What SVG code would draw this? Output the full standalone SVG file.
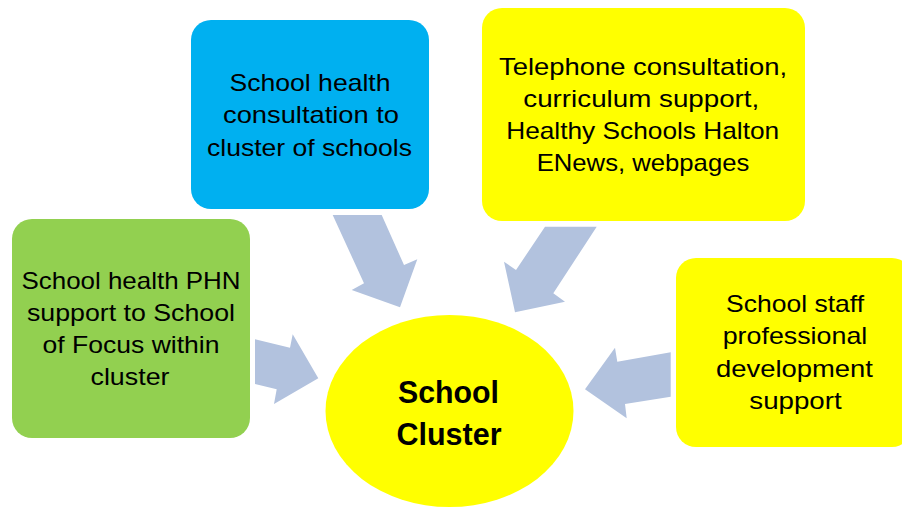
<svg xmlns="http://www.w3.org/2000/svg" width="902" height="508" viewBox="0 0 902 508">
  <style>
    .box-label { font-family: "Liberation Sans", Arial, sans-serif; font-size: 24px; fill: #000000; text-anchor: middle; }
    .hub-label { font-family: "Liberation Sans", Arial, sans-serif; font-size: 32px; font-weight: bold; fill: #000000; text-anchor: middle; }
    .arrow { fill: #B2C2DE; stroke: none; }
    .green { fill: #92D050; }
    .blue { fill: #00B0F0; }
    .yellow { fill: #FFFF00; }
  </style>
  <rect width="902" height="508" fill="#FFFFFF"/>

  <!-- Block arrows pointing into the hub -->
  <g id="connectors">
    <polygon class="arrow" points="332.7,215 381.7,215 404,265 417.3,259.3 400,307.3 351.7,290 364,283.3"/>
    <polygon class="arrow" points="255,339.3 290,347.7 292.7,334.3 318.3,378.3 274,404 276.7,389.3 255,384"/>
    <polygon class="arrow" points="596.7,226.7 545,226.7 516,270 504,261.7 515,312.3 565,301.7 553.3,293.3"/>
    <polygon class="arrow" points="670.7,352.3 617.3,361.7 615,347.7 585,389.3 626.7,418.3 625,404 670.7,396.7"/>
  </g>

  <g id="node-phn-support">
    <rect class="green" x="12" y="219" width="238" height="219" rx="20" ry="20"/>
    <text class="box-label" x="131" y="288.5" textLength="219" lengthAdjust="spacingAndGlyphs">School health PHN</text>
    <text class="box-label" x="131" y="320.5" textLength="208" lengthAdjust="spacingAndGlyphs">support to School</text>
    <text class="box-label" x="131" y="352.5" textLength="177" lengthAdjust="spacingAndGlyphs">of Focus within</text>
    <text class="box-label" x="130" y="384.5" textLength="79" lengthAdjust="spacingAndGlyphs">cluster</text>
  </g>

  <g id="node-health-consultation">
    <rect class="blue" x="191" y="20" width="238" height="189" rx="20" ry="20"/>
    <text class="box-label" x="310" y="91" textLength="161" lengthAdjust="spacingAndGlyphs">School health</text>
    <text class="box-label" x="311" y="123" textLength="176" lengthAdjust="spacingAndGlyphs">consultation to</text>
    <text class="box-label" x="309.5" y="155.5" textLength="205" lengthAdjust="spacingAndGlyphs">cluster of schools</text>
  </g>

  <g id="node-telephone">
    <rect class="yellow" x="482" y="8" width="323" height="213" rx="20" ry="20"/>
    <text class="box-label" x="643" y="74.5" textLength="288" lengthAdjust="spacingAndGlyphs">Telephone consultation,</text>
    <text class="box-label" x="641.3" y="106.5" textLength="236" lengthAdjust="spacingAndGlyphs">curriculum support,</text>
    <text class="box-label" x="642.7" y="138.5" textLength="273" lengthAdjust="spacingAndGlyphs">Healthy Schools Halton</text>
    <text class="box-label" x="643" y="170.5" textLength="212.6" lengthAdjust="spacingAndGlyphs">ENews, webpages</text>
  </g>

  <g id="node-staff-development">
    <rect class="yellow" x="676" y="258" width="236" height="189" rx="20" ry="20"/>
    <text class="box-label" x="795" y="312" textLength="138" lengthAdjust="spacingAndGlyphs">School staff</text>
    <text class="box-label" x="795" y="344" textLength="144.6" lengthAdjust="spacingAndGlyphs">professional</text>
    <text class="box-label" x="794.5" y="376.5" textLength="157" lengthAdjust="spacingAndGlyphs">development</text>
    <text class="box-label" x="795.5" y="408.5" textLength="92.4" lengthAdjust="spacingAndGlyphs">support</text>
  </g>

  <g id="node-school-cluster">
    <ellipse class="yellow" cx="449.5" cy="411" rx="124" ry="96"/>
    <text class="hub-label" x="448.5" y="403" textLength="101" lengthAdjust="spacingAndGlyphs">School</text>
    <text class="hub-label" x="449" y="445" textLength="105" lengthAdjust="spacingAndGlyphs">Cluster</text>
  </g>
</svg>
